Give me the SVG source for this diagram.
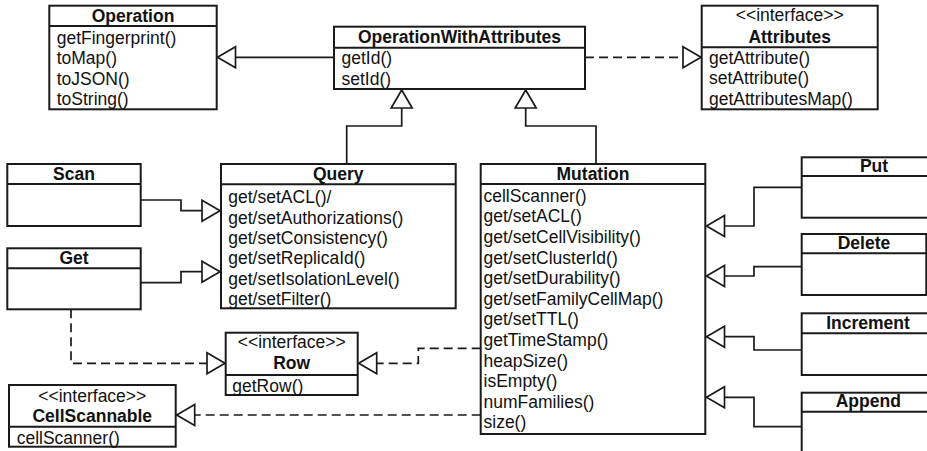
<svg xmlns="http://www.w3.org/2000/svg" width="927" height="451" viewBox="0 0 927 451">
<style>
.box{fill:#fff;stroke:#1a1a1a;stroke-width:2}
.div{stroke:#1a1a1a;stroke-width:2}
text{font-family:"Liberation Sans",Arial,Helvetica,sans-serif;font-size:17.5px;fill:#111}
.t{font-weight:bold;text-anchor:middle}
.s{text-anchor:middle}
.ln{fill:none;stroke:#1a1a1a;stroke-width:1.7}
.dash{stroke-dasharray:9,5}
</style>
<defs>
<marker id="tri" markerUnits="userSpaceOnUse" markerWidth="22" markerHeight="24" refX="18" refY="10.5" orient="auto" overflow="visible">
<path d="M0,0 L18,10.5 L0,21 Z" fill="#fff" stroke="#1a1a1a" stroke-width="1.7" stroke-dasharray="none"/>
</marker>
</defs>
<g id="connectors">
<path class="ln" d="M334,57.3 H217.5" marker-end="url(#tri)"/>
<path class="ln" d="M346.7,164 V126 H401.7 V90" marker-end="url(#tri)"/>
<path class="ln" d="M596,164 V126 H525.7 V90" marker-end="url(#tri)"/>
<path class="ln dash" d="M585,57.3 H701" marker-end="url(#tri)"/>
<path class="ln" d="M140.7,200 H181 V210.7 H220" marker-end="url(#tri)"/>
<path class="ln" d="M140.7,282.7 H181 V271.7 H220" marker-end="url(#tri)"/>
<path class="ln" d="M801.7,187.3 H754 V226 H706.5" marker-end="url(#tri)"/>
<path class="ln" d="M801.7,266.7 H754 V276 H706.5" marker-end="url(#tri)"/>
<path class="ln" d="M801.7,350 H754 V336.7 H706.5" marker-end="url(#tri)"/>
<path class="ln" d="M801.7,426.7 H754 V397.3 H706.5" marker-end="url(#tri)"/>
<path class="ln dash" d="M71,309.3 V363.3 H225" marker-end="url(#tri)"/>
<path class="ln dash" d="M480.7,348.3 H418.3 V363.3 H358.7" marker-end="url(#tri)"/>
<path class="ln dash" d="M480.7,415 H176.7" marker-end="url(#tri)"/>
</g>
<g id="Operation">
<rect class="box" x="49.3" y="5.7" width="167.4" height="103.6"/>
<line class="div" x1="49.3" y1="26" x2="216.7" y2="26"/>
<text class="t" x="133" y="22">Operation</text>
<text x="56.7" y="44">getFingerprint()</text>
<text x="56.7" y="64.3">toMap()</text>
<text x="56.7" y="84.5">toJSON()</text>
<text x="56.7" y="104.7">toString()</text>
</g>
<g id="OperationWithAttributes">
<rect class="box" x="334" y="26.7" width="251" height="62.3"/>
<line class="div" x1="334" y1="47.7" x2="585" y2="47.7"/>
<text class="t" x="459.5" y="42.7">OperationWithAttributes</text>
<text x="341.5" y="64.3">getId()</text>
<text x="341.5" y="85">setId()</text>
</g>
<g id="Attributes">
<rect class="box" x="701.7" y="5.7" width="176" height="103.6"/>
<line class="div" x1="701.7" y1="47.3" x2="877.7" y2="47.3"/>
<text class="s" x="789.7" y="20.5">&lt;&lt;interface&gt;&gt;</text>
<text class="t" x="789.7" y="42.7">Attributes</text>
<text x="709" y="64">getAttribute()</text>
<text x="709" y="84.3">setAttribute()</text>
<text x="709" y="104.7">getAttributesMap()</text>
</g>
<g id="Scan">
<rect class="box" x="7.3" y="164" width="133.4" height="62"/>
<line class="div" x1="7.3" y1="184" x2="140.7" y2="184"/>
<text class="t" x="74" y="180">Scan</text>
</g>
<g id="Get">
<rect class="box" x="7.3" y="248.3" width="133.4" height="61"/>
<line class="div" x1="7.3" y1="268.3" x2="140.7" y2="268.3"/>
<text class="t" x="74" y="264">Get</text>
</g>
<g id="Query">
<rect class="box" x="221" y="164" width="234.7" height="144.3"/>
<line class="div" x1="221" y1="184.3" x2="455.7" y2="184.3"/>
<text class="t" x="338.3" y="180">Query</text>
<text x="228.3" y="203.3">get/setACL()/</text>
<text x="228.3" y="223.7">get/setAuthorizations()</text>
<text x="228.3" y="244">get/setConsistency()</text>
<text x="228.3" y="264.3">get/setReplicaId()</text>
<text x="228.3" y="284.7">get/setIsolationLevel()</text>
<text x="228.3" y="305">get/setFilter()</text>
</g>
<g id="Mutation">
<rect class="box" x="480.7" y="164" width="224.6" height="270"/>
<line class="div" x1="480.7" y1="184" x2="705.3" y2="184"/>
<text class="t" x="593" y="180">Mutation</text>
<text x="483.5" y="201.7">cellScanner()</text>
<text x="483.5" y="222.3">get/setACL()</text>
<text x="483.5" y="242.9">get/setCellVisibility()</text>
<text x="483.5" y="263.5">get/setClusterId()</text>
<text x="483.5" y="284.1">get/setDurability()</text>
<text x="483.5" y="304.7">get/setFamilyCellMap()</text>
<text x="483.5" y="325.3">get/setTTL()</text>
<text x="483.5" y="345.9">getTimeStamp()</text>
<text x="483.5" y="366.5">heapSize()</text>
<text x="483.5" y="387.1">isEmpty()</text>
<text x="483.5" y="407.7">numFamilies()</text>
<text x="483.5" y="428.3">size()</text>
</g>
<g id="Put">
<rect class="box" x="801.7" y="157.3" width="144.6" height="60.4"/>
<line class="div" x1="801.7" y1="176" x2="946.3" y2="176"/>
<text class="t" x="874" y="171.7">Put</text>
</g>
<g id="Delete">
<rect class="box" x="801.7" y="234" width="124.6" height="61"/>
<line class="div" x1="801.7" y1="253.3" x2="926.3" y2="253.3"/>
<text class="t" x="864" y="249.3">Delete</text>
</g>
<g id="Increment">
<rect class="box" x="801.7" y="313.3" width="132.6" height="61.7"/>
<line class="div" x1="801.7" y1="333.3" x2="934.3" y2="333.3"/>
<text class="t" x="868" y="329.3">Increment</text>
</g>
<g id="Append">
<rect class="box" x="801.7" y="392.7" width="133.2" height="70"/>
<line class="div" x1="801.7" y1="411.7" x2="934.9" y2="411.7"/>
<text class="t" x="868.3" y="407.3">Append</text>
</g>
<g id="Row">
<rect class="box" x="225.7" y="332.7" width="132" height="62.3"/>
<line class="div" x1="225.7" y1="375" x2="357.7" y2="375"/>
<text class="s" x="291.7" y="348.3">&lt;&lt;interface&gt;&gt;</text>
<text class="t" x="291.7" y="369.3">Row</text>
<text x="232.3" y="391.7">getRow()</text>
</g>
<g id="CellScannable">
<rect class="box" x="9" y="385" width="166.7" height="61.7"/>
<line class="div" x1="9" y1="426.7" x2="175.7" y2="426.7"/>
<text class="s" x="92.3" y="401.7">&lt;&lt;interface&gt;&gt;</text>
<text class="t" x="92.3" y="421.7">CellScannable</text>
<text x="16.7" y="444">cellScanner()</text>
</g>
</svg>
